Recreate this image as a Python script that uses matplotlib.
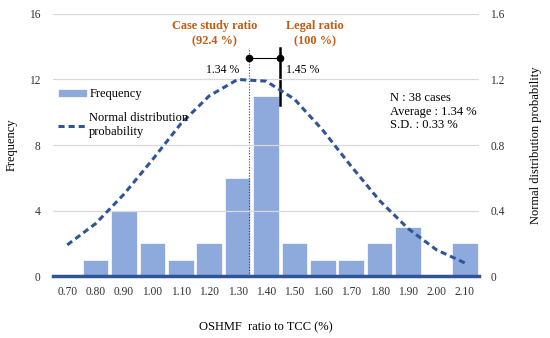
import numpy as np
import matplotlib
matplotlib.use("Agg")
import matplotlib.pyplot as plt

plt.rcParams['font.family'] = ['Liberation Serif', 'DejaVu Serif']

# histogram bins and counts
bins = ["0.70", "0.80", "0.90", "1.00", "1.10", "1.20", "1.30", "1.40",
        "1.50", "1.60", "1.70", "1.80", "1.90", "2.00", "2.10"]
freq = [0, 1, 4, 2, 1, 2, 6, 11, 2, 1, 1, 2, 3, 0, 2]
# normal distribution probability (right axis)
normal_prob = [0.19, 0.32, 0.50, 0.71, 0.93, 1.10, 1.20, 1.19,
               1.08, 0.89, 0.67, 0.46, 0.29, 0.16, 0.08]

case_ratio = 1.34
legal_ratio = 1.45
first_bin = 0.70
bin_step = 0.10

bar_col = "#8EA9DB"
line_col = "#2F5597"
orange = "#C55A11"

fig = plt.figure(figsize=(5.5, 3.38), dpi=100)
ax = fig.add_axes([0.0964, 0.1834, 0.7746, 0.7752])
ax2 = ax.twinx()

x = np.arange(len(bins))
ax.bar(x, freq, width=0.9, color=bar_col, edgecolor="white", linewidth=0.5,
       label="Frequency", zorder=2)
ax2.plot(x, normal_prob, color=line_col, lw=2.2, dashes=(2, 1.3),
         label="Normal distribution\nprobability", zorder=3)

ax.set_xlim(-0.5, len(bins) - 0.5)
ax.set_ylim(0, 16)
ax2.set_ylim(0, 1.6)
ax.set_yticks([0, 4, 8, 12, 16])
ax2.set_yticks([0, 0.4, 0.8, 1.2, 1.6])
ax2.set_yticklabels(["0", "0.4", "0.8", "1.2", "1.6"])
ax.set_xticks(x)
ax.set_xticklabels(bins)

# gridlines and base line drawn by hand on the top axes
for g in [4, 8, 12, 16]:
    ax2.axhline(g / 10, color="#D9D9D9", lw=0.9, zorder=0.5)
ax2.axhline(0, color=line_col, lw=2.5, zorder=4, clip_on=False)

for a in (ax, ax2):
    for s in ["top", "right", "left", "bottom"]:
        a.spines[s].set_visible(False)
    a.tick_params(length=0, labelsize=8.3, colors="#333333")
ax.tick_params(axis="x", pad=7)
ax.tick_params(axis="y", pad=9)
ax2.tick_params(axis="y", pad=8)

ax.set_xlabel("OSHMF  ratio to TCC (%)", fontsize=9, labelpad=17)
ax.set_ylabel("Frequency", fontsize=9, labelpad=8)
ax2.set_ylabel("Normal distribution probability", fontsize=9, labelpad=18)

# marker lines
xc = (case_ratio - first_bin) / bin_step
xl = (legal_ratio - first_bin) / bin_step
ax.plot([xc, xc], [0, 13.9], color="#404040", lw=0.8, ls=(0, (1, 1.5)), zorder=5)
ax.plot([xl, xl], [10.45, 13.9], color="black", lw=1.8, zorder=5)
ax.plot([xc, xl], [13.3, 13.3], color="black", lw=0.8, zorder=5)
ax.plot([xc, xl], [13.3, 13.3], "o", color="black", ms=4.5, zorder=6)

ax.text(xc - 0.35, 12.6, "1.34 %", fontsize=8.5, ha="right", va="center")
ax.text(xl + 0.22, 12.6, "1.45 %", fontsize=8.5, ha="left", va="center")
ax.text(xc - 1.22, 14.8, "Case study ratio\n(92.4 %)", fontsize=8.8, fontweight="bold",
        color=orange, ha="center", va="center", linespacing=1.3)
ax.text(xl + 1.22, 14.8, "Legal ratio\n(100 %)", fontsize=8.8, fontweight="bold",
        color=orange, ha="center", va="center", linespacing=1.3)

ax.text(11.35, 11.25, "N : 38 cases\nAverage : 1.34 %\nS.D. : 0.33 %",
        fontsize=9, ha="left", va="top", linespacing=1.2)

h1, l1 = ax.get_legend_handles_labels()
h2, l2 = ax2.get_legend_handles_labels()
ax2.legend(h1 + h2, l1 + l2, loc="upper left", bbox_to_anchor=(0.0, 0.735),
           frameon=False, fontsize=9, handlelength=2.3, handleheight=0.5,
           handletextpad=0.2, labelspacing=0.95, borderaxespad=0)

fig.savefig("out.png", dpi=100)
